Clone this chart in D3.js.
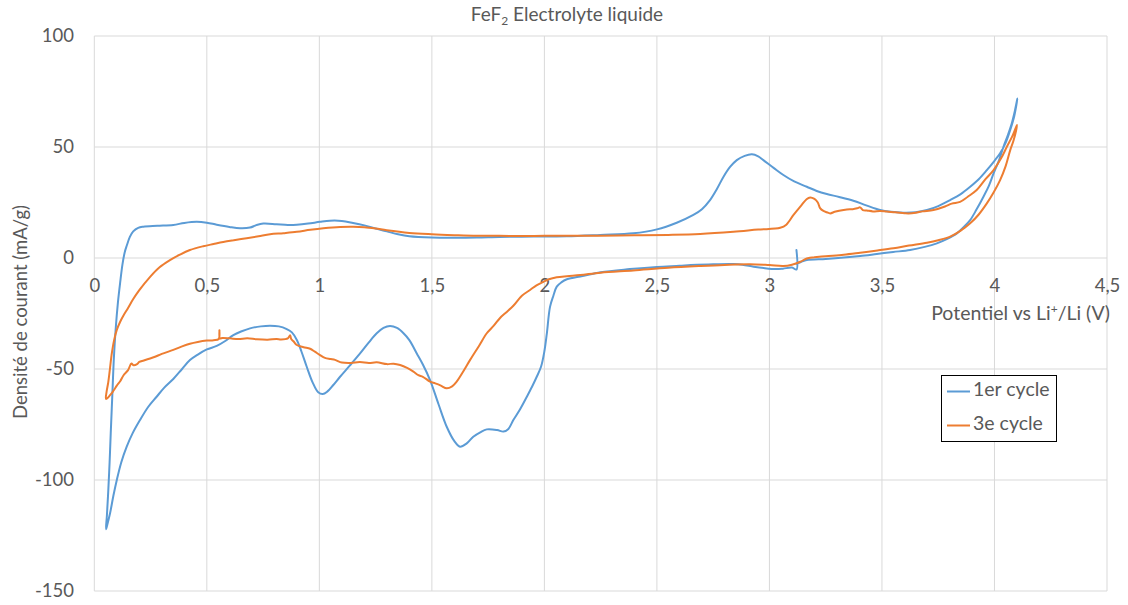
<!DOCTYPE html>
<html>
<head>
<meta charset="utf-8">
<script src="https://cdn.jsdelivr.net/npm/d3@7"></script>
<style>
  html, body { margin: 0; padding: 0; background: #ffffff; }
  svg { display: block; font-family: Lato, "Open Sans", sans-serif; }
</style>
</head>
<body>
<svg id="chart" width="1128" height="605"></svg>
<script>
// ---- data ----
const chartTitle = "FeF";
const xTicks = [0, 0.5, 1, 1.5, 2, 2.5, 3, 3.5, 4, 4.5];
const yTicks = [100, 50, 0, -50, -100, -150];
const seriesNames = ["1er cycle", "3e cycle"];

// 1er cycle : [potential V, current mA/g]
const cycle1 = [
  [3.12, 3.6], [3.12, -5.2], [3.10, -4.3], [3.06, -4.8], [3.03, -5.0], [2.98, -4.6], [2.93, -3.9],
  [2.88, -3.0], [2.84, -2.7], [2.75, -2.8], [2.65, -3.2], [2.6, -3.5], [2.5, -4.0], [2.38, -5.0],
  [2.25, -6.4], [2.17, -8.1], [2.1, -9.6], [2.075, -11], [2.055, -12.9], [2.04, -17], [2.025, -22],
  [2.011, -33.9], [2.0, -42], [1.985, -49], [1.966, -53.5], [1.945, -58], [1.922, -62.5], [1.89, -68.5],
  [1.862, -73], [1.84, -77], [1.818, -78.2], [1.79, -77.5], [1.744, -77.2], [1.715, -78.5], [1.684, -80.5],
  [1.655, -83.5], [1.625, -85], [1.6, -82.5], [1.566, -76], [1.53, -66], [1.492, -55], [1.46, -48],
  [1.433, -43], [1.40, -37], [1.374, -33.9], [1.345, -31.5], [1.314, -30.6], [1.285, -31.5], [1.255, -33.9],
  [1.22, -38], [1.181, -43], [1.135, -48.5], [1.092, -53.5], [1.062, -57.2], [1.035, -60.2], [1.015, -61.3],
  [0.995, -60.5], [0.97, -56], [0.944, -49], [0.92, -42], [0.9, -36.9], [0.878, -33.5], [0.855, -32.0],
  [0.82, -30.8], [0.781, -30.5], [0.74, -30.8], [0.692, -31.7], [0.655, -33], [0.618, -34.7], [0.58, -37.5],
  [0.544, -39.6], [0.5, -41.2], [0.46, -43.5], [0.425, -46], [0.39, -50], [0.351, -54.5], [0.31, -58.5],
  [0.277, -62.5], [0.24, -67], [0.203, -73], [0.17, -79], [0.144, -85], [0.12, -92], [0.1, -100],
  [0.085, -107], [0.07, -115], [0.058, -120], [0.052, -122.2],
  [0.056, -116], [0.062, -105], [0.068, -92], [0.073, -79], [0.08, -62], [0.087, -45], [0.095, -32],
  [0.105, -20], [0.115, -11], [0.125, -3], [0.135, 2.5], [0.144, 5.5], [0.158, 9.5], [0.173, 12],
  [0.195, 13.6], [0.218, 14.1], [0.28, 14.5], [0.351, 14.9], [0.4, 15.8], [0.455, 16.3], [0.5, 15.9],
  [0.544, 15.0], [0.6, 14.0], [0.648, 13.4], [0.692, 13.7], [0.72, 14.8], [0.751, 15.5], [0.81, 15.2],
  [0.86, 14.9], [0.9, 15.0], [0.95, 15.5], [1.003, 16.3], [1.047, 16.8], [1.1, 16.7], [1.15, 15.8],
  [1.2, 14.7], [1.25, 13.3], [1.3, 12.0], [1.35, 10.7], [1.4, 9.8], [1.5, 9.2], [1.6, 9.1], [1.7, 9.2],
  [1.8, 9.5], [1.9, 9.6], [2.0, 9.7], [2.1, 9.8], [2.248, 10.4], [2.395, 11.1], [2.5, 12.9], [2.588, 15.9],
  [2.662, 19.4], [2.7, 22], [2.736, 26.1], [2.766, 31], [2.796, 36.6], [2.825, 41], [2.855, 44.1],
  [2.89, 46], [2.922, 46.7], [2.95, 45.8], [2.973, 44.1], [3.02, 40.5], [3.062, 37.4], [3.11, 34.5],
  [3.166, 32.1], [3.21, 30.2], [3.255, 28.8], [3.31, 27.5], [3.373, 25.8], [3.43, 23.7], [3.492, 21.6],
  [3.54, 20.8], [3.596, 20.4], [3.65, 20.6], [3.7, 21.6], [3.75, 23.4], [3.803, 26.1], [3.85, 28.8],
  [3.892, 32.1], [3.93, 35.5], [3.966, 39.6], [4.0, 43.8], [4.025, 47.2], [4.05, 52], [4.07, 57.7],
  [4.088, 64], [4.102, 71.9],
  [4.09, 66], [4.077, 60.7], [4.06, 55.5], [4.04, 50.1], [4.02, 44], [3.996, 38.1], [3.975, 32.5],
  [3.951, 27.6], [3.92, 21.8], [3.892, 17.1], [3.86, 13.6], [3.833, 11.1], [3.79, 8.6], [3.744, 6.6],
  [3.69, 5.0], [3.625, 3.6], [3.55, 2.7], [3.477, 1.8], [3.403, 0.9], [3.33, 0.2], [3.25, -0.4],
  [3.166, -0.9], [3.14, -1.8], [3.12, -2.6]
];

// 3e cycle : [potential V, current mA/g]
const cycle3 = [
  [3.2, 0.3], [3.166, -0.2], [3.137, -1.7], [3.1, -3.0], [3.062, -3.6], [3.0, -3.2], [2.914, -2.8],
  [2.8, -3.1], [2.692, -3.6], [2.55, -4.4], [2.395, -5.6], [2.25, -6.6], [2.159, -7.7], [2.1, -8.2],
  [2.055, -8.7], [2.02, -9.6], [1.996, -10.7], [1.965, -12.3], [1.936, -14.4], [1.9, -17], [1.862, -21.5],
  [1.83, -24.5], [1.803, -27], [1.775, -30.5], [1.744, -33.9], [1.71, -39.5], [1.67, -45.9], [1.64, -51],
  [1.61, -55.7], [1.59, -57.8], [1.566, -58.7], [1.54, -57.5], [1.515, -56.5], [1.492, -55.7], [1.46, -53.5],
  [1.44, -52.8], [1.418, -51.2], [1.39, -49.5], [1.359, -48.2], [1.33, -47.6], [1.3, -47.8], [1.255, -47.0],
  [1.22, -47.3], [1.18, -46.9], [1.14, -47.3], [1.1, -47.1], [1.07, -45.9], [1.05, -45.5], [1.025, -45.0],
  [1.0, -43.5], [0.98, -42.2], [0.959, -40.9], [0.93, -40.2], [0.9, -39.2], [0.885, -37.5], [0.875, -36.5],
  [0.87, -34.8], [0.86, -36.2], [0.83, -36.7], [0.81, -36.5], [0.77, -36.8], [0.722, -36.6], [0.68, -36.2],
  [0.64, -36.5], [0.603, -36.2], [0.57, -36.0], [0.558, -36.2], [0.556, -32.5], [0.553, -36.5], [0.53, -37.0],
  [0.5, -37.2], [0.46, -37.8], [0.425, -38.6], [0.39, -39.8], [0.351, -41.4], [0.3, -43.2], [0.27, -44.5],
  [0.248, -45.3], [0.22, -46.2], [0.2, -46.8], [0.19, -47.8], [0.175, -48.3], [0.165, -47.5], [0.15, -50.5],
  [0.13, -52.8], [0.115, -55.5], [0.1, -57.5], [0.085, -59.8], [0.07, -61.8], [0.052, -63.5],
  [0.055, -60], [0.062, -56], [0.07, -49.5], [0.077, -43.5], [0.088, -37], [0.1, -32.4], [0.115, -28.7],
  [0.129, -26], [0.15, -22.5], [0.173, -18.5], [0.2, -14.5], [0.248, -8.5], [0.29, -4.2], [0.336, -1.0],
  [0.38, 1.5], [0.425, 3.6], [0.484, 5.3], [0.53, 6.3], [0.573, 7.2], [0.62, 8.0], [0.677, 8.9],
  [0.73, 9.8], [0.781, 10.7], [0.84, 11.2], [0.9, 11.8], [0.96, 12.7], [1.018, 13.4], [1.092, 14.0],
  [1.15, 14.1], [1.2, 13.9], [1.25, 13.3], [1.3, 12.5], [1.4, 11.3], [1.5, 10.7], [1.6, 10.3], [1.7, 10.0],
  [1.8, 10.0], [1.9, 9.9], [2.0, 10.0], [2.1, 10.0], [2.248, 10.0], [2.4, 10.2], [2.55, 10.4], [2.692, 10.8],
  [2.84, 11.8], [2.95, 12.8], [3.048, 13.6], [3.075, 15], [3.107, 19.4], [3.14, 23.5], [3.165, 26.5],
  [3.181, 27.3], [3.2, 26.6], [3.215, 25], [3.225, 22.5], [3.24, 21.2], [3.255, 20.6], [3.27, 20.1],
  [3.29, 20.8], [3.31, 21.3], [3.344, 21.9], [3.37, 22.0], [3.39, 22.4], [3.403, 22.8], [3.415, 21.6],
  [3.433, 21.4], [3.46, 21.0], [3.492, 21.2], [3.522, 20.9], [3.56, 20.6], [3.6, 20.2], [3.618, 20.1],
  [3.65, 20.4], [3.68, 21.0], [3.729, 21.6], [3.78, 23.2], [3.81, 24.5], [3.847, 25.3], [3.88, 27.5],
  [3.921, 30.6], [3.96, 35.5], [3.996, 39.6], [4.03, 45], [4.055, 50.1], [4.08, 55], [4.1, 59.9],
  [4.085, 53], [4.07, 48.6], [4.05, 41.5], [4.025, 35.1], [3.996, 29.5], [3.966, 24.6], [3.93, 19.6],
  [3.892, 15.6], [3.85, 12.3], [3.803, 9.6], [3.75, 8.0], [3.7, 6.9], [3.62, 5.6], [3.551, 4.4],
  [3.48, 3.4], [3.403, 2.4], [3.33, 1.5], [3.25, 0.8], [3.2, 0.3]
];

const seriesData = [cycle1, cycle3];
const colors = ["#5B9BD5", "#ED7D31"];

// ---- layout ----
const svg = d3.select("#chart");
const FONT = "Lato, 'Open Sans', sans-serif";
const plot = { left: 94.3, right: 1107, top: 36, bottom: 591 };
const x = d3.scaleLinear().domain([0, 4.5]).range([plot.left, plot.right]);
const y = d3.scaleLinear().domain([-150, 100]).range([plot.bottom, plot.top]);
const fr = d3.formatLocale({ decimal: ",", thousands: " ", grouping: [3], currency: ["", "€"], minus: "-" });
const fmt = fr.format("~g");

const grid = svg.append("g");
grid.selectAll("line.v").data(xTicks).join("line")
  .attr("x1", d => x(d)).attr("x2", d => x(d))
  .attr("y1", plot.top).attr("y2", plot.bottom)
  .attr("stroke", "#d9d9d9").attr("stroke-width", 1);
grid.selectAll("line.h").data(yTicks).join("line")
  .attr("x1", plot.left).attr("x2", plot.right)
  .attr("y1", d => y(d)).attr("y2", d => y(d))
  .attr("stroke", "#d9d9d9").attr("stroke-width", 1);

// y axis labels
const yAxis = d3.axisLeft(y).tickValues(yTicks).tickSize(0).tickPadding(0).tickFormat(fmt);
const gy = svg.append("g").attr("transform", `translate(${74},0)`).call(yAxis);
gy.select(".domain").remove();
gy.selectAll("text").attr("font-size", 18.5).attr("fill", "#595959").attr("font-family", FONT);

// x axis labels below y=0
const xAxis = d3.axisBottom(x).tickValues(xTicks).tickSize(0).tickPadding(0).tickFormat(fmt);
const gx = svg.append("g").attr("transform", `translate(0,${y(0) + 29})`).call(xAxis);
gx.select(".domain").remove();
gx.selectAll("text").attr("font-size", 18.5).attr("fill", "#595959").attr("dy", "0")
  .attr("y", 0).attr("font-family", FONT).attr("dominant-baseline", "middle");

// lines
const line = d3.line().x(d => x(d[0])).y(d => y(d[1])).curve(d3.curveCatmullRom.alpha(0.5));
svg.append("g").selectAll("path").data(seriesData).join("path")
  .attr("d", line)
  .attr("fill", "none")
  .attr("stroke", (d, i) => colors[i])
  .attr("stroke-width", 2)
  .attr("stroke-linejoin", "round")
  .attr("stroke-linecap", "round");

// title
const title = svg.append("text").attr("x", 567).attr("y", 21).attr("text-anchor", "middle")
  .attr("font-size", 19).attr("fill", "#595959");
title.append("tspan").text(chartTitle);
title.append("tspan").text("2").attr("font-size", 12).attr("dy", 4);
title.append("tspan").text(" Electrolyte liquide").attr("dy", -4);

// x axis title
const xt = svg.append("text").attr("x", 1110).attr("y", 320).attr("text-anchor", "end")
  .attr("font-size", 19.5).attr("fill", "#595959");
xt.append("tspan").text("Potentiel vs Li");
xt.append("tspan").text("+").attr("font-size", 12).attr("dy", -7);
xt.append("tspan").text("/Li (V)").attr("dy", 7);

// y axis title
svg.append("text")
  .attr("transform", `translate(27,${312}) rotate(-90)`)
  .attr("text-anchor", "middle")
  .attr("font-size", 18.5).attr("fill", "#595959")
  .text("Densité de courant (mA/g)");

// legend
const lg = svg.append("g");
lg.append("rect").attr("x", 941.5).attr("y", 375.5).attr("width", 115).attr("height", 66)
  .attr("fill", "#fff").attr("stroke", "#000").attr("stroke-width", 1);
seriesNames.forEach((n, i) => {
  const yy = 391.5 + i * 34;
  lg.append("line").attr("x1", 947).attr("x2", 970).attr("y1", yy).attr("y2", yy)
    .attr("stroke", colors[i]).attr("stroke-width", 2);
  lg.append("text").attr("x", 973).attr("y", yy).attr("dominant-baseline", "middle")
    .attr("font-size", 19.5).attr("fill", "#595959").text(n);
});
</script>
</body>
</html>
